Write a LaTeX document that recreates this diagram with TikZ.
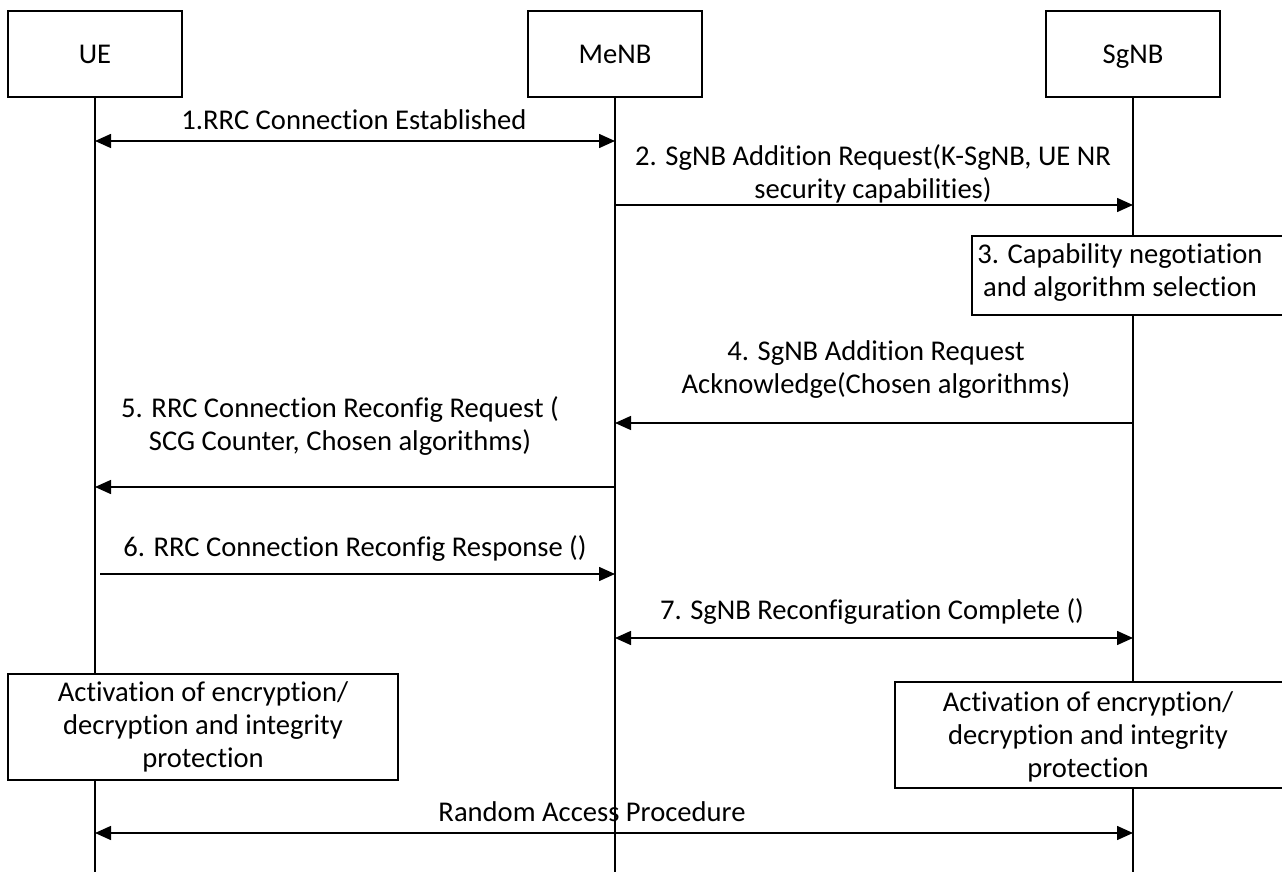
\documentclass[tikz,border=0pt]{standalone}
\usepackage{fontspec}
\setmainfont[Ligatures=NoCommon]{Carlito}
\usetikzlibrary{arrows.meta}

\begin{document}
\begin{tikzpicture}[x=0.5pt, y=-0.5pt,
  every node/.style={font=\fontsize{14.3}{16.5}\selectfont, inner sep=0pt},
  actor/.style={draw, line width=0.75pt, minimum width=87pt, minimum height=43pt,
    text height=9.2pt, text depth=0pt},
  note/.style={draw, fill=white, line width=0.75pt},
  msg/.style={line width=0.75pt, -{Triangle[length=8pt, width=7pt]}},
  dmsg/.style={line width=0.75pt, {Triangle[length=8pt, width=7pt]}-{Triangle[length=8pt, width=7pt]}},
  lab/.style={align=center}]
\useasboundingbox (0,0) rectangle (1282,872);

% Entities and lifelines
\foreach \name/\x in {UE/95, MeNB/615, SgNB/1133} {
  \node[actor] (\name) at (\x,54) {\name};
  \coordinate (\name-bot) at (\x,872);
  \draw[line width=0.75pt] (\name.south) -- (\name-bot);
}

% 1. RRC connection
\draw[dmsg] (UE |- 0,141) -- (MeNB |- 0,141);
\node[lab] (l1) at (354,120) {1.RRC Connection Established};

% 2. Addition request
\draw[msg] (MeNB |- 0,205) -- (SgNB |- 0,205);
\node[lab] (l2) at (873,174) {2. SgNB Addition Request(K-SgNB, UE NR\\security capabilities)};

% 3. Negotiation (box runs off the right edge)
\draw[note] (972,236) rectangle (1290,315);
\node[lab] (n3) at (1120,273) {3. Capability negotiation\\and algorithm selection};

% 4. Acknowledge
\draw[msg] (SgNB |- 0,423) -- (MeNB |- 0,423);
\node[lab] (l4) at (876,370) {4. SgNB Addition Request\\Acknowledge(Chosen algorithms)};

% 5. Reconfig request
\draw[msg] (MeNB |- 0,487) -- (UE |- 0,487);
\node[lab] (l5) at (340,426) {5. RRC Connection Reconfig Request (\\SCG Counter, Chosen algorithms)};

% 6. Reconfig response
\coordinate (s6) at (100,574);
\draw[msg] (s6) -- (MeNB |- s6);
\node[lab] (l6) at (355,548) {6. RRC Connection Reconfig Response ()};

% 7. Reconfiguration complete
\draw[dmsg] (MeNB |- 0,638) -- (SgNB |- 0,638);
\node[lab] (l7) at (872,611) {7. SgNB Reconfiguration Complete ()};

% Activation
\node[note, lab, minimum width=195pt, minimum height=53pt] (act1) at (203,727) {Activation of encryption/\\decryption and integrity\\protection};
\draw[note] (895,682) rectangle (1290,788);
\node[lab] (act2) at (1088,737) {Activation of encryption/\\decryption and integrity\\protection};

% Random access
\draw[dmsg] (UE |- 0,833) -- (SgNB |- 0,833);
\node[lab] (lr) at (592,812) {Random Access Procedure};
\end{tikzpicture}
\end{document}
